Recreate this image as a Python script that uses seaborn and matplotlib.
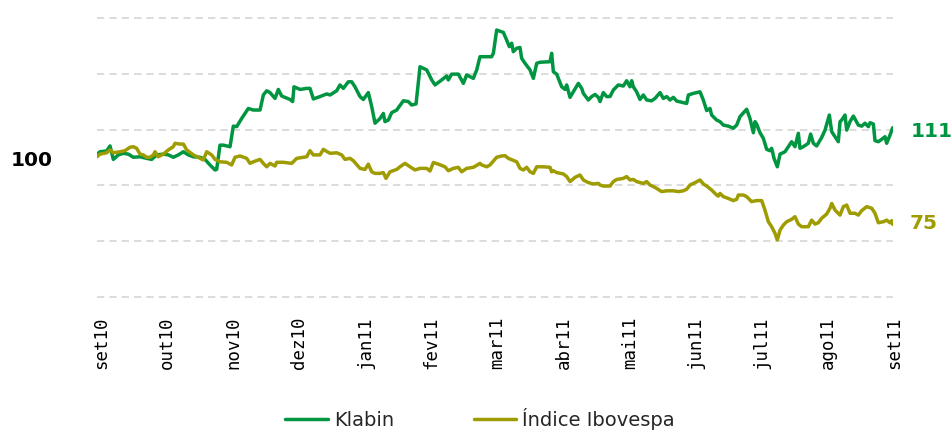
import numpy as np
import pandas as pd
import matplotlib
matplotlib.use("Agg")
import matplotlib.pyplot as plt
import matplotlib.transforms as mtransforms
import seaborn as sns

# eixo x em meses desde set10 (base 100 no inicio)
months = ["set10", "out10", "nov10", "dez10", "jan11", "fev11", "mar11",
          "abr11", "mai11", "jun11", "jul11", "ago11", "set11"]

klabin_t = [0.0, 0.045, 0.146, 0.197, 0.247, 0.323, 0.399, 0.474, 0.550, 0.651,
            0.752, 0.827, 0.903, 1.004, 1.080, 1.155, 1.231, 1.307, 1.382, 1.458,
            1.559, 1.634, 1.710, 1.786, 1.811, 1.861, 1.912, 2.013, 2.063, 2.114,
            2.189, 2.290, 2.366, 2.467, 2.517, 2.568, 2.618, 2.694, 2.744, 2.795,
            2.921, 2.961, 2.981, 3.072, 3.173, 3.223, 3.274, 3.375, 3.476, 3.526,
            3.627, 3.677, 3.728, 3.803, 3.854, 3.904, 3.980, 4.030, 4.106, 4.157,
            4.207, 4.283, 4.333, 4.358, 4.409, 4.459, 4.535, 4.636, 4.711, 4.762,
            4.828, 4.888, 4.989, 5.065, 5.115, 5.216, 5.292, 5.317, 5.367, 5.468,
            5.544, 5.594, 5.695, 5.746, 5.796,
            5.821, 5.972, 5.998, 6.048, 6.149, 6.199, 6.240, 6.275, 6.300, 6.351,
            6.401, 6.426, 6.477, 6.553, 6.603, 6.654, 6.704, 6.855, 6.880, 6.906,
            6.956, 7.032, 7.082, 7.107, 7.158, 7.208, 7.284, 7.335, 7.360, 7.435,
            7.486, 7.536, 7.587, 7.612, 7.662, 7.713, 7.763, 7.814, 7.889, 7.965,
            8.015, 8.066, 8.091, 8.116, 8.166, 8.217, 8.267, 8.318, 8.393, 8.444,
            8.520, 8.570, 8.621, 8.671, 8.721, 8.772, 8.873, 8.923, 8.949, 9.024,
            9.125, 9.175, 9.226, 9.276, 9.301, 9.377, 9.427, 9.478, 9.554, 9.629,
            9.680, 9.730, 9.831, 9.881, 9.932, 9.957, 9.982, 10.033, 10.083, 10.134,
            10.184, 10.209, 10.245, 10.295, 10.336, 10.411, 10.462, 10.512, 10.562, 10.613,
            10.638, 10.688, 10.764, 10.799, 10.840, 10.890, 10.966, 11.017, 11.082, 11.118,
            11.168, 11.218, 11.244, 11.269, 11.319, 11.345, 11.395, 11.446, 11.521, 11.572,
            11.622, 11.673, 11.698, 11.748, 11.773, 11.824, 11.874, 11.925, 11.950, 12.000,
            12.041]
klabin_v = [101.0, 102.0, 102.3, 104.2, 99.1, 100.8, 101.4, 101.1, 99.9, 100.1,
            99.5, 99.1, 100.8, 101.1, 100.8, 99.9, 100.8, 102.0, 100.8, 100.1,
            99.9, 99.1, 97.0, 95.1, 95.3, 104.5, 104.5, 103.9, 111.7, 111.5,
            114.6, 118.4, 117.8, 117.8, 123.5, 125.1, 124.4, 122.2, 125.6, 123.1,
            121.8, 121.0, 126.6, 125.6, 126.0, 126.0, 122.0, 122.9, 123.9, 123.5,
            125.1, 127.3, 126.0, 128.5, 128.5, 126.6, 122.9, 121.8, 124.4, 119.1,
            112.8, 114.6, 116.5, 113.4, 114.0, 116.8, 117.8, 121.3, 121.0, 119.7,
            120.1, 134.2, 133.0, 129.2, 127.3, 129.2, 130.7, 129.2, 131.4, 131.4,
            127.9, 131.1, 129.8, 133.0, 138.0,
            138.0, 138.0, 139.3, 148.1, 147.2, 144.3, 141.8, 143.1, 139.9, 141.2,
            141.5, 137.4, 135.5, 133.0, 129.8, 135.5, 135.9, 136.1, 139.3, 132.3,
            131.4, 126.6, 125.6, 127.3, 122.6, 124.7, 127.9, 126.0, 124.1, 121.6,
            122.9, 123.7, 122.6, 121.0, 124.4, 122.9, 122.9, 125.4, 127.3, 126.9,
            128.9, 126.6, 128.9, 126.6, 124.7, 121.8, 123.5, 121.6, 121.3, 122.2,
            124.4, 122.2, 122.9, 121.6, 122.6, 121.2, 120.6, 120.3, 123.5, 124.1,
            124.7, 121.6, 117.6, 118.4, 115.9, 114.0, 113.4, 112.1, 111.7, 110.9,
            112.1, 115.3, 118.1, 114.6, 109.2, 113.4, 112.5, 109.2, 107.1, 102.9,
            102.4, 103.3, 99.5, 96.3, 101.1, 102.0, 103.9, 105.8, 103.9, 109.0,
            103.3, 103.9, 105.2, 108.7, 105.2, 104.2, 107.4, 110.2, 115.9, 109.6,
            107.7, 105.8, 113.4, 114.0, 115.9, 110.2, 113.4, 115.5, 112.1, 111.7,
            112.8, 111.5, 113.0, 112.5, 106.2, 105.8, 106.7, 107.7, 105.2, 108.3,
            111.1]

ibov_t = [0.0, 0.045, 0.146, 0.197, 0.247, 0.348, 0.424, 0.499, 0.550, 0.600,
          0.651, 0.701, 0.752, 0.802, 0.853, 0.878, 0.928, 1.004, 1.080, 1.155,
          1.180, 1.256, 1.307, 1.357, 1.458, 1.559, 1.609, 1.660, 1.735, 1.786,
          1.861, 1.962, 2.038, 2.088, 2.164, 2.265, 2.315, 2.366, 2.467, 2.517,
          2.568, 2.618, 2.694, 2.719, 2.820, 2.946, 3.022, 3.122, 3.173, 3.223,
          3.274, 3.375, 3.425, 3.526, 3.627, 3.703, 3.753, 3.829, 3.879, 3.980,
          4.056, 4.106, 4.157, 4.207, 4.283, 4.333, 4.373, 4.434, 4.535, 4.585,
          4.661, 4.737, 4.812, 4.888, 4.989, 5.039, 5.090, 5.166, 5.266, 5.317,
          5.392, 5.468, 5.518, 5.594, 5.695, 5.796,
          5.821, 5.897, 5.947, 6.048, 6.124, 6.174, 6.225, 6.351, 6.401, 6.452,
          6.502, 6.553, 6.603, 6.654, 6.755, 6.855, 6.880, 6.906, 6.956, 7.057,
          7.107, 7.158, 7.234, 7.309, 7.360, 7.435, 7.511, 7.587, 7.612, 7.662,
          7.763, 7.814, 7.864, 7.965, 8.015, 8.066, 8.116, 8.166, 8.267, 8.318,
          8.368, 8.444, 8.545, 8.621, 8.721, 8.797, 8.873, 8.923, 8.974, 9.050,
          9.125, 9.175, 9.226, 9.301, 9.377, 9.402, 9.427, 9.478, 9.554, 9.629,
          9.680, 9.705, 9.781, 9.831, 9.906, 9.982, 10.058, 10.108, 10.159, 10.209,
          10.260, 10.295, 10.336, 10.386, 10.437, 10.512, 10.562, 10.613, 10.663, 10.764,
          10.815, 10.865, 10.915, 10.966, 11.042, 11.092, 11.118, 11.168, 11.244, 11.294,
          11.345, 11.395, 11.471, 11.521, 11.572, 11.647, 11.723, 11.773, 11.824, 11.899,
          11.950, 12.000, 12.026, 12.041]
ibov_v = [100.1, 101.1, 101.6, 102.7, 101.6, 102.0, 102.4, 103.7, 103.9, 103.3,
          101.1, 100.8, 99.9, 99.9, 100.8, 102.0, 100.1, 101.1, 102.7, 103.9,
          105.2, 104.9, 104.9, 102.7, 100.8, 99.5, 98.9, 102.0, 100.8, 99.1,
          98.2, 98.0, 97.0, 99.9, 100.4, 99.5, 97.6, 98.2, 99.1, 97.6,
          96.3, 97.6, 96.6, 98.0, 98.0, 97.6, 99.5, 99.9, 100.1, 102.4,
          100.8, 100.8, 102.9, 101.4, 101.6, 100.8, 99.1, 99.5, 98.6, 95.7,
          95.3, 97.3, 94.4, 93.8, 93.8, 94.1, 91.9, 94.4, 95.3, 96.3,
          97.6, 96.3, 95.1, 95.7, 95.7, 94.7, 97.9, 97.3, 96.3, 94.8,
          95.7, 96.1, 94.4, 95.7, 96.1, 97.6,
          97.0, 96.3, 97.0, 99.9, 100.4, 100.5, 99.5, 98.2, 95.7, 95.1,
          96.1, 94.4, 93.8, 96.3, 96.3, 96.1, 94.4, 94.8, 94.1, 93.6,
          92.6, 90.7, 92.3, 93.2, 91.3, 90.3, 89.8, 90.0, 89.4, 89.0,
          89.0, 90.7, 91.5, 91.9, 92.6, 91.3, 91.5, 90.7, 90.0, 90.7,
          89.4, 88.5, 86.9, 87.2, 87.2, 86.9, 87.2, 87.8, 89.4, 90.3,
          91.3, 89.8, 89.0, 87.5, 85.6, 85.2, 86.2, 85.0, 84.3, 83.5,
          84.0, 85.6, 85.6, 85.0, 83.1, 83.5, 83.5, 79.9, 75.5, 73.6,
          71.1, 68.6, 72.3, 74.2, 75.5, 76.4, 77.4, 74.6, 73.6, 73.6,
          76.1, 74.6, 75.1, 76.8, 78.4, 80.6, 82.4, 79.9, 78.0, 81.2,
          81.8, 78.7, 78.7, 78.0, 79.7, 81.2, 80.6, 78.7, 75.1, 75.5,
          76.1, 75.1, 75.9, 74.5]

series = ["Klabin", "Índice Ibovespa"]
colors = {"Klabin": "#009540", "Índice Ibovespa": "#9E9C00"}
end_labels = ["111", "75"]

df = pd.concat([
    pd.DataFrame({"t": klabin_t, "valor": klabin_v, "serie": series[0]}),
    pd.DataFrame({"t": ibov_t, "valor": ibov_v, "serie": series[1]}),
], ignore_index=True)

sns.set_theme(style="white")
plt.rcParams["font.family"] = ["DejaVu Sans"]

fig = plt.figure(figsize=(9.53, 4.30), dpi=100)
# area do grafico em pixels: x 97..893, y 17..298
ax = fig.add_axes([97 / 953, 1 - 298.0 / 430, (893.3 - 97) / 953, (298.0 - 17.1) / 430])

sns.lineplot(data=df, x="t", y="valor", hue="serie", palette=colors,
             linewidth=2.5, estimator=None, sort=False, ax=ax)

ax.set_xlim(0, 12.05)
ax.set_ylim(46.6, 153.0)
ax.set_yticks(np.linspace(47.1, 152.5, 6))
ax.set_yticklabels([])
ax.yaxis.grid(True, color="#d6d6d6", linestyle=(0, (4.4, 3.0)), linewidth=1.2)
ax.xaxis.grid(False)
ax.set_xticks(range(len(months)))
ax.set_xticklabels(months, rotation=90, fontfamily="DejaVu Sans Mono",
                   fontsize=12.5, color="black")
ax.tick_params(axis="both", length=0)
ax.tick_params(axis="x", pad=13.5)
offset = mtransforms.ScaledTranslation(4 / 100, 0, fig.dpi_scale_trans)
for lab in ax.get_xticklabels():
    lab.set_transform(lab.get_transform() + offset)
for s in ax.spines.values():
    s.set_visible(False)
ax.set_xlabel("")
ax.set_ylabel("")

# rotulos
ax.text(-0.67, 99.6, "100", ha="right", va="center_baseline", fontsize=14.5,
        fontweight="bold", color="black", clip_on=False)
ax.text(12.32, 110.4, end_labels[0], ha="left", va="center_baseline", fontsize=14.5,
        fontweight="bold", color=colors["Klabin"], clip_on=False)
ax.text(12.30, 75.4, end_labels[1], ha="left", va="center_baseline", fontsize=14.5,
        fontweight="bold", color=colors["Índice Ibovespa"], clip_on=False)

handles, labels = ax.get_legend_handles_labels()
leg = ax.legend(handles, labels, loc="center", bbox_to_anchor=(480 / 953, 1 - 419 / 430),
                bbox_transform=fig.transFigure, ncol=2, frameon=False, fontsize=14,
                handlelength=2.2, handletextpad=0.3, columnspacing=4.1)
for h in leg.get_lines():
    h.set_linewidth(2.5)

fig.savefig("out.png", dpi=100)
